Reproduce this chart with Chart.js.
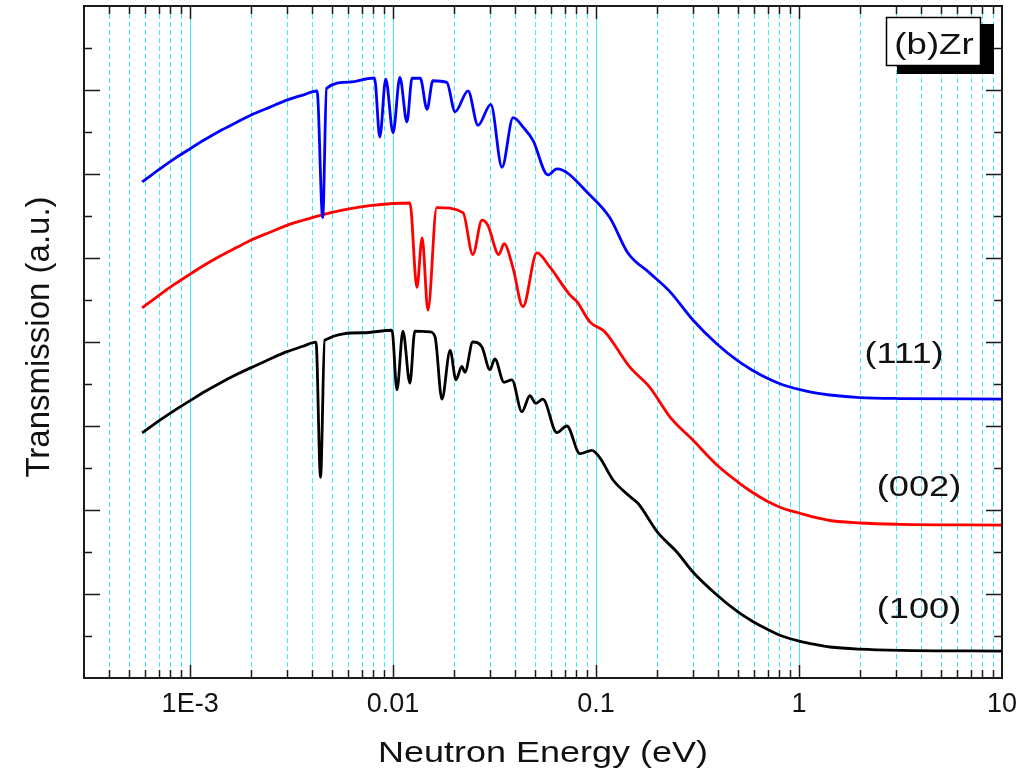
<!DOCTYPE html>
<html>
<head>
<meta charset="utf-8">
<title>(b)Zr transmission</title>
<script src="https://cdn.jsdelivr.net/npm/chart.js@4.4.0/dist/chart.umd.min.js"></script>
<style>
    html, body { margin: 0; padding: 0; background: #fff; }
    #wrap { width: 1030px; height: 775px; }
</style>
</head>
<body>
<div id="wrap"><canvas id="zrChart" width="1030" height="775"></canvas></div>
<script>
// (111) - blue
const e111 = [5.8e-4, 7.1e-4, 8.42e-4, 1.0e-3, 1.183e-3, 1.4e-3, 1.682e-3, 2.0e-3, 2.474e-3, 3.0e-3,
    3.597e-3, 4.22e-3, 4.5e-3, 4.7e-3, 6.13e-3, 7.35e-3, 8.1e-3, 8.6e-3, 9.2e-3, 0.0100,
    0.0108, 0.0117, 0.0124, 0.0136, 0.0147, 0.0157, 0.0184, 0.0202, 0.0234, 0.0262,
    0.0303, 0.0344, 0.0390, 0.0440, 0.0489, 0.0579, 0.0641, 0.0932, 0.117, 0.1435,
    0.184, 0.231, 0.300, 0.394, 0.50, 0.586, 0.694, 0.823, 1.0, 1.20,
    1.42, 1.99, 3.14, 10];
const t111 = [5.905, 6.062, 6.186, 6.301, 6.41, 6.512, 6.611, 6.702, 6.796, 6.879,
    6.94, 6.988, 5.48, 7.02, 7.095, 7.131, 7.143, 6.44, 7.13, 6.49,
    7.15, 6.62, 7.14, 7.14, 6.77, 7.11, 7.09, 6.74, 6.99, 6.58,
    6.83, 6.08, 6.67, 6.55, 6.40, 5.99, 6.06, 5.75, 5.48, 5.06,
    4.82, 4.60, 4.262, 3.976, 3.774, 3.667, 3.571, 3.494, 3.435, 3.393,
    3.369, 3.339, 3.327, 3.321];

// (002) - red
const e002 = [5.8e-4, 7.1e-4, 8.42e-4, 1.0e-3, 1.183e-3, 1.4e-3, 1.682e-3, 2.0e-3, 2.474e-3, 3.0e-3,
    3.597e-3, 4.46e-3, 5.79e-3, 7.69e-3, 0.0100, 0.0121, 0.0131, 0.0139, 0.01485, 0.0164,
    0.0221, 0.0247, 0.0274, 0.0293, 0.0332, 0.0352, 0.0390, 0.0436, 0.0511, 0.0593,
    0.0743, 0.0805, 0.0932, 0.1106, 0.1468, 0.184, 0.231, 0.300, 0.394, 0.50,
    0.586, 0.694, 0.823, 1.0, 1.20, 1.42, 1.99, 3.14, 10];
const t002 = [4.405, 4.565, 4.691, 4.808, 4.919, 5.021, 5.121, 5.214, 5.307, 5.389,
    5.449, 5.514, 5.576, 5.624, 5.649, 5.655, 4.65, 5.24, 4.38, 5.60,
    5.54, 5.04, 5.45, 5.39, 5.04, 5.17, 4.88, 4.42, 5.06, 4.89,
    4.56, 4.48, 4.24, 4.12, 3.70, 3.46, 3.11, 2.833, 2.536, 2.333,
    2.214, 2.107, 2.024, 1.964, 1.911, 1.875, 1.845, 1.83, 1.821];

// (100) - black
const e100 = [5.8e-4, 7.1e-4, 8.42e-4, 1.0e-3, 1.183e-3, 1.4e-3, 1.682e-3, 2.0e-3, 2.474e-3, 3.0e-3,
    3.597e-3, 4.17e-3, 4.39e-3, 4.6e-3, 7.1e-3, 9.87e-3, 0.01045, 0.01118, 0.0121, 0.0128,
    0.0152, 0.0161, 0.0174, 0.0191, 0.0204, 0.0218, 0.0226, 0.0247, 0.0274, 0.0300,
    0.0317, 0.0352, 0.0385, 0.0431, 0.0472, 0.0505, 0.0547, 0.0641, 0.0718, 0.0833,
    0.0954, 0.1045, 0.121, 0.1468, 0.1608, 0.2017, 0.250, 0.300, 0.394, 0.50,
    0.586, 0.694, 0.823, 1.0, 1.20, 1.42, 1.99, 3.14, 10];
const t100 = [2.917, 3.069, 3.189, 3.302, 3.410, 3.510, 3.610, 3.695, 3.798, 3.885,
    3.949, 3.999, 2.39, 4.02, 4.11, 4.14, 3.43, 4.13, 3.51, 4.13,
    4.12, 4.06, 3.32, 3.90, 3.55, 3.71, 3.64, 4.00, 3.94, 3.67,
    3.80, 3.52, 3.55, 3.17, 3.36, 3.27, 3.32, 2.92, 3.00, 2.67,
    2.71, 2.62, 2.36, 2.16, 2.08, 1.73, 1.50, 1.262, 0.988, 0.786,
    0.679, 0.583, 0.50, 0.44, 0.399, 0.369, 0.343, 0.329, 0.321];

// axis ticks
const xDecades = [1e-3, 1e-2, 0.1, 1, 10];
const xTickLabels = ["1E-3", "0.01", "0.1", "1", "10"];
const xMultiples = [2, 3, 4, 5, 6, 7, 8, 9];
const xMin = 3e-4, xMax = 10;
const yMin = 0, yMax = 8;

const curveNames = ["(111)", "(002)", "(100)"];
const curveColors = ["#0000ff", "#ff0000", "#000000"];

const FONT = "'Liberation Sans', Arial, Helvetica, sans-serif";

function isDecade(v) {
    return xDecades.some(d => Math.abs(Math.log10(v) - Math.log10(d)) < 1e-6);
}

function allXTicks() {
    const out = [];
    [1e-4, 1e-3, 1e-2, 0.1, 1].forEach(d => {
        xMultiples.forEach(m => {
            const v = m * d;
            if (v >= xMin * 0.999 && v <= xMax) out.push(v);
        });
    });
    xDecades.forEach(d => out.push(d));
    return out.sort((a, b) => a - b);
}

// the original lettering is a bit wider than Arial, so stretch it sideways
function wideText(ctx, txt, x, y, size, sx) {
    ctx.save();
    ctx.font = size + "px " + FONT;
    ctx.fillStyle = "#111";
    ctx.textAlign = "center";
    ctx.textBaseline = "alphabetic";
    ctx.translate(x, y);
    ctx.scale(sx, 1);
    ctx.fillText(txt, 0, 0);
    ctx.restore();
}

const framePlugin = {
    id: "frame",
    beforeDatasetsDraw(chart) {
        const ctx = chart.ctx;
        const a = chart.chartArea;
        const xs = chart.scales.x;
        ctx.save();
        ctx.strokeStyle = "rgb(60,235,250)";
        ctx.lineWidth = 1;
        xs.ticks.forEach(t => {
            const px = Math.round(xs.getPixelForValue(t.value)) + 0.5;
            if (px < a.left + 2 || px > a.right - 2) return;
            ctx.setLineDash(isDecade(t.value) ? [] : [5, 3]);
            ctx.beginPath();
            ctx.moveTo(px, a.top);
            ctx.lineTo(px, a.bottom);
            ctx.stroke();
        });
        ctx.restore();
    },
    afterDatasetsDraw(chart) {
        const ctx = chart.ctx;
        const a = chart.chartArea;
        const xs = chart.scales.x;
        const ys = chart.scales.y;
        ctx.save();
        ctx.strokeStyle = "#1a1a1a";
        ctx.lineWidth = 1.5;
        // x ticks, bottom and top, pointing inward
        xs.ticks.forEach(t => {
            const px = Math.round(xs.getPixelForValue(t.value)) + 0.5;
            if (px < a.left + 2 || px > a.right - 2) return;
            const len = isDecade(t.value) ? 13 : 8;
            ctx.beginPath();
            ctx.moveTo(px, a.bottom);
            ctx.lineTo(px, a.bottom - len);
            ctx.moveTo(px, a.top);
            ctx.lineTo(px, a.top + len);
            ctx.stroke();
        });
        // y ticks, left and right
        ys.ticks.forEach(t => {
            const py = Math.round(ys.getPixelForValue(t.value)) + 0.5;
            if (py < a.top + 2 || py > a.bottom - 2) return;
            const len = Number.isInteger(t.value) ? 16 : 8;
            ctx.beginPath();
            ctx.moveTo(a.left, py);
            ctx.lineTo(a.left + len, py);
            ctx.moveTo(a.right, py);
            ctx.lineTo(a.right - len, py);
            ctx.stroke();
        });
        // frame
        ctx.lineWidth = 2;
        ctx.strokeRect(a.left, a.top, a.right - a.left, a.bottom - a.top);

        // (b)Zr box with shadow
        ctx.fillStyle = "#000";
        ctx.fillRect(897, 24, 97, 50);
        ctx.fillStyle = "#fff";
        ctx.fillRect(886, 17, 95, 49);
        ctx.lineWidth = 1.5;
        ctx.strokeStyle = "#000";
        ctx.strokeRect(886.5, 17.5, 94, 48);
        ctx.restore();
        wideText(ctx, "(b)Zr", 934, 54, 30, 1.22);

        // curve labels
        wideText(ctx, curveNames[0], 904, 363, 29, 1.25);
        wideText(ctx, curveNames[1], 919, 496, 29, 1.25);
        wideText(ctx, curveNames[2], 919, 618, 29, 1.25);

        // axis titles
        wideText(ctx, "Neutron Energy (eV)", 543, 762, 29, 1.24);
        ctx.save();
        ctx.translate(49, 337);
        ctx.rotate(-Math.PI / 2);
        ctx.font = "33px " + FONT;
        ctx.fillStyle = "#111";
        ctx.textAlign = "center";
        ctx.textBaseline = "alphabetic";
        ctx.fillText("Transmission (a.u.)", 0, 0);
        ctx.restore();
    }
};

function toPoints(es, ts) {
    return es.map((e, i) => ({ x: e, y: ts[i] }));
}

const ctx = document.getElementById("zrChart");

new Chart(ctx, {
    type: "line",
    data: {
        datasets: [
            { label: curveNames[0], data: toPoints(e111, t111), borderColor: curveColors[0] },
            { label: curveNames[1], data: toPoints(e002, t002), borderColor: curveColors[1] },
            { label: curveNames[2], data: toPoints(e100, t100), borderColor: curveColors[2] }
        ]
    },
    options: {
        responsive: false,
        devicePixelRatio: 1,
        animation: false,
        layout: { padding: { left: 0, right: 28, top: 6, bottom: 0 } },
        elements: {
            point: { radius: 0 },
            line: { borderWidth: 2.8, cubicInterpolationMode: "monotone", fill: false }
        },
        scales: {
            x: {
                type: "logarithmic",
                min: xMin,
                max: xMax,
                grid: { display: false, drawTicks: false },
                border: { display: false },
                afterBuildTicks: s => { s.ticks = allXTicks().map(v => ({ value: v })); },
                afterFit: s => { s.height = 97; },
                ticks: {
                    autoSkip: false,
                    maxRotation: 0,
                    padding: 10,
                    color: "#111",
                    font: { family: FONT, size: 27 },
                    callback: function (value) {
                        const i = xDecades.findIndex(d => Math.abs(Math.log10(value) - Math.log10(d)) < 1e-6);
                        return i >= 0 ? xTickLabels[i] : "";
                    }
                }
            },
            y: {
                min: yMin,
                max: yMax,
                grid: { display: false, drawTicks: false },
                border: { display: false },
                afterFit: s => { s.width = 84; },
                ticks: { display: false, stepSize: 0.5 }
            }
        },
        plugins: {
            legend: { display: false },
            tooltip: { enabled: false }
        }
    },
    plugins: [framePlugin]
});
</script>
</body>
</html>
